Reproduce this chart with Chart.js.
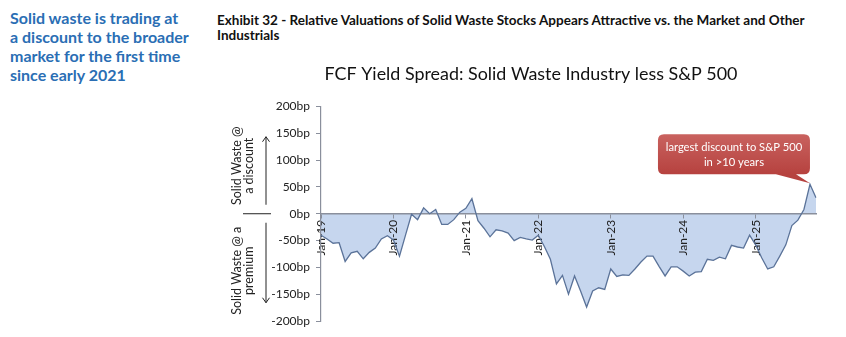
<!DOCTYPE html>
<html>
<head>
<meta charset="utf-8">
<script src="https://cdn.jsdelivr.net/npm/chart.js@4"></script>
<style>
  body { margin: 0; background: #fff; width: 846px; height: 337px; position: relative; overflow: hidden; }
  .side { position: absolute; left: 10px; top: 8px; width: 200px; font: bold 16px Lato, sans-serif; line-height: 19px; color: #2a6eb4; }
  .exhibit { position: absolute; left: 217px; top: 13px; width: 625px; font: bold 13.5px Lato, sans-serif; line-height: 15px; color: #111; }
  #wrap { position: absolute; left: 210px; top: 55px; width: 636px; height: 282px; }
</style>
</head>
<body>
<div class="side">Solid waste is trading at<br>a discount to the broader<br>market for the first time<br>since early 2021</div>
<div class="exhibit">Exhibit 32 - Relative Valuations of Solid Waste Stocks Appears Attractive vs. the Market and Other<br>Industrials</div>
<div id="wrap"><canvas id="chart"></canvas></div>
<script>
// monthly categories, Jan-19 .. Nov-25
const months = [
  'Jan-19','Feb-19','Mar-19','Apr-19','May-19','Jun-19','Jul-19','Aug-19','Sep-19','Oct-19','Nov-19','Dec-19',
  'Jan-20','Feb-20','Mar-20','Apr-20','May-20','Jun-20','Jul-20','Aug-20','Sep-20','Oct-20','Nov-20','Dec-20',
  'Jan-21','Feb-21','Mar-21','Apr-21','May-21','Jun-21','Jul-21','Aug-21','Sep-21','Oct-21','Nov-21','Dec-21',
  'Jan-22','Feb-22','Mar-22','Apr-22','May-22','Jun-22','Jul-22','Aug-22','Sep-22','Oct-22','Nov-22','Dec-22',
  'Jan-23','Feb-23','Mar-23','Apr-23','May-23','Jun-23','Jul-23','Aug-23','Sep-23','Oct-23','Nov-23','Dec-23',
  'Jan-24','Feb-24','Mar-24','Apr-24','May-24','Jun-24','Jul-24','Aug-24','Sep-24','Oct-24','Nov-24','Dec-24',
  'Jan-25','Feb-25','Mar-25','Apr-25','May-25','Jun-25','Jul-25','Aug-25','Sep-25','Oct-25','Nov-25'
];

// FCF yield spread, solid waste less S&P 500 (bp)
const spread = [
  -40, -47, -55, -54, -89, -73, -70, -84, -72, -64, -47, -41,
  -49, -79, -40, -1, -11, 11, 0, 8, -20, -20, -11, 3,
  10, 28, -13, -27, -43, -30, -32, -36, -50, -44, -47, -49,
  -40, -61, -85, -131, -115, -150, -116, -144, -174, -144, -138, -141,
  -103, -117, -114, -115, -103, -90, -79, -79, -98, -116, -99, -99,
  -107, -116, -109, -108, -85, -87, -81, -84, -59, -62, -64, -40,
  -58, -82, -103, -99, -79, -58, -22, -12, 8, 55, 30
];

const yTicks = [-200, -150, -100, -50, 0, 50, 100, 150, 200];
const calloutLines = ['largest discount to S&P 500', 'in >10 years'];
const calloutIndex = 81;

const axisGrey = '#8a8f9c';
const labelFont = { family: 'Lato, sans-serif', size: 12 };

// rotated "discount / premium" labels with arrows left of the y axis
const sideNotes = {
  id: 'sideNotes',
  afterDraw(c) {
    const ctx = c.ctx;
    const y0 = c.scales.y.getPixelForValue(0);
    ctx.save();
    ctx.fillStyle = '#222';
    ctx.strokeStyle = '#222';
    ctx.lineWidth = 1;
    ctx.font = '12.5px Lato, sans-serif';
    ctx.textAlign = 'center';
    ctx.textBaseline = 'middle';
    const text = (s, x, y) => {
      ctx.save(); ctx.translate(x, y); ctx.rotate(-Math.PI / 2); ctx.fillText(s, 0, 0); ctx.restore();
    };
    text('Solid Waste @', 27, y0 - 48);
    text('a discount', 39, y0 - 48);
    text('Solid Waste @ a', 27, y0 + 57);
    text('premium', 39, y0 + 57);
    // divider
    ctx.beginPath(); ctx.moveTo(33, y0); ctx.lineTo(61, y0); ctx.stroke();
    // arrows
    const arrow = (x, ya, yb) => {
      ctx.beginPath(); ctx.moveTo(x, ya); ctx.lineTo(x, yb); ctx.stroke();
      const d = yb < ya ? 1 : -1;
      ctx.beginPath();
      ctx.moveTo(x - 3.5, yb + d * 5); ctx.lineTo(x, yb); ctx.lineTo(x + 3.5, yb + d * 5);
      ctx.stroke();
    };
    arrow(56, y0 - 9, y0 - 77);
    arrow(56, y0 + 9, y0 + 89);
    ctx.restore();
  }
};

// red speech-bubble callout pointing to the latest peak
const callout = {
  id: 'callout',
  afterDatasetsDraw(c) {
    const ctx = c.ctx;
    const pt = c.getDatasetMeta(0).data[calloutIndex];
    const w = 152, h = 40, r = 6;
    const x = pt.x - 152, y = pt.y - 50;
    ctx.save();
    const g = ctx.createLinearGradient(0, y, 0, y + h);
    g.addColorStop(0, '#c9625f');
    g.addColorStop(1, '#b6423f');
    ctx.fillStyle = g;
    ctx.beginPath();
    ctx.moveTo(x + r, y);
    ctx.lineTo(x + w - r, y);
    ctx.quadraticCurveTo(x + w, y, x + w, y + r);
    ctx.lineTo(x + w, y + h - r);
    ctx.quadraticCurveTo(x + w, y + h, x + w - r, y + h);
    ctx.lineTo(x + w - 14, y + h);
    ctx.lineTo(pt.x, pt.y - 1);
    ctx.lineTo(x + w - 34, y + h);
    ctx.lineTo(x + r, y + h);
    ctx.quadraticCurveTo(x, y + h, x, y + h - r);
    ctx.lineTo(x, y + r);
    ctx.quadraticCurveTo(x, y, x + r, y);
    ctx.closePath();
    ctx.fill();
    ctx.fillStyle = '#fff';
    ctx.font = '11.2px Lato, sans-serif';
    ctx.textAlign = 'center';
    ctx.textBaseline = 'middle';
    ctx.fillText(calloutLines[0], x + w / 2, y + 13);
    ctx.fillText(calloutLines[1], x + w / 2, y + 28);
    ctx.restore();
  }
};

new Chart(document.getElementById('chart'), {
  type: 'line',
  data: {
    labels: months,
    datasets: [{
      data: spread,
      borderColor: '#5b7399',
      borderWidth: 1.3,
      backgroundColor: 'rgb(198,214,238)',
      fill: 'origin',
      pointRadius: 0,
      tension: 0
    }]
  },
  options: {
    responsive: true,
    maintainAspectRatio: false,
    animation: false,
    layout: { padding: { left: 36, right: 30, top: 0, bottom: 16 } },
    plugins: {
      legend: { display: false },
      tooltip: { enabled: false },
      // paint the area first so the month labels sit on top of it
      filler: { drawTime: 'beforeDraw' },
      title: {
        display: true,
        text: 'FCF Yield Spread: Solid Waste Industry less S&P 500',
        color: '#111',
        font: { family: 'Lato, sans-serif', size: 17.9, weight: 'normal' },
        padding: { top: 8, bottom: 22 }
      }
    },
    scales: {
      x: {
        type: 'category',
        position: { y: 0 },
        offset: false,
        z: 1,
        border: { color: axisGrey, width: 1.5 },
        grid: {
          drawOnChartArea: false,
          tickLength: 4,
          tickColor: (ctx) => (ctx.index % 12 === 0 ? axisGrey : 'rgba(0,0,0,0)')
        },
        ticks: {
          autoSkip: false,
          minRotation: 90,
          maxRotation: 90,
          padding: 2,
          color: '#222',
          font: labelFont,
          callback: (v, i) => (i % 12 === 0 ? months[i] : '')
        }
      },
      y: {
        min: -200,
        max: 200,
        afterFit: (s) => { s.width = 75; },
        afterBuildTicks: (s) => { s.ticks = yTicks.map(v => ({ value: v })); },
        border: { color: axisGrey, width: 1.2 },
        grid: { drawOnChartArea: false, tickLength: 5, color: axisGrey },
        ticks: {
          padding: 6,
          color: '#222',
          font: labelFont,
          callback: (v) => v + 'bp'
        }
      }
    }
  },
  plugins: [sideNotes, callout]
});
</script>
</body>
</html>
